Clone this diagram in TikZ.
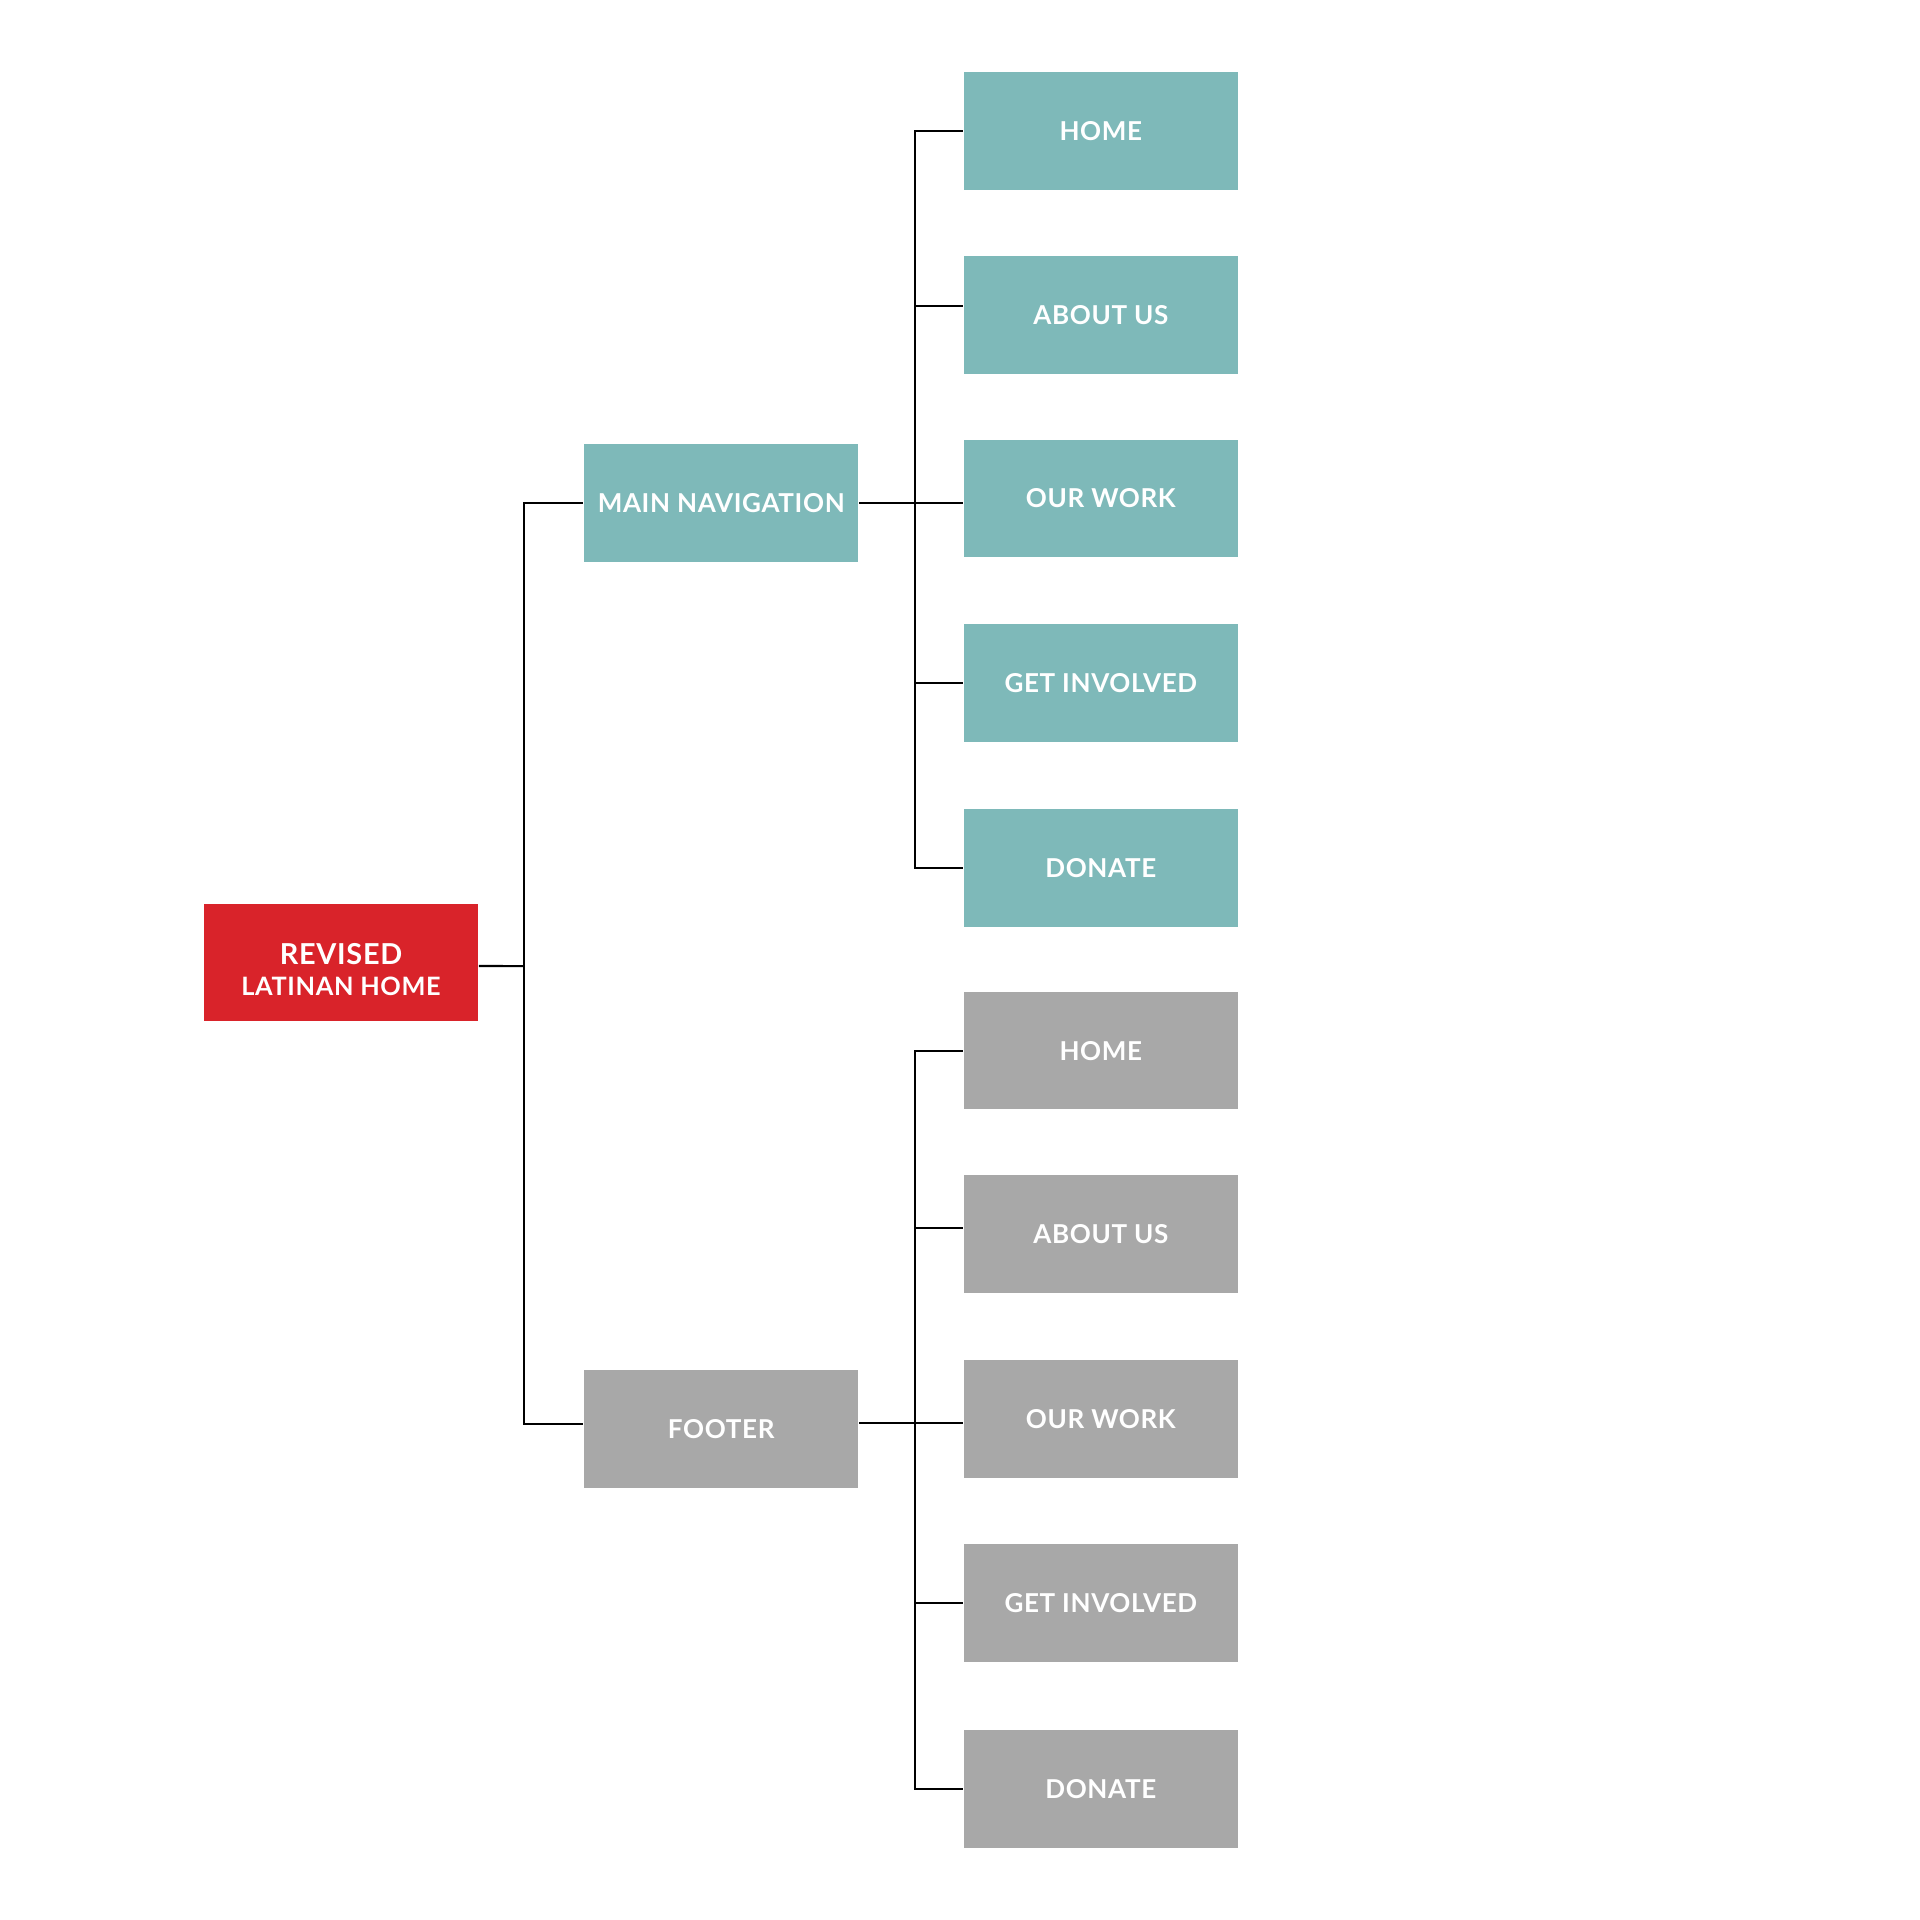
\documentclass[tikz,border=0pt]{standalone}
\usepackage{fontspec}
\setmainfont[LetterSpace=2.5]{Lato}
\usepackage{tikz}
\usetikzlibrary{}

\definecolor{navteal}{HTML}{7EB9B9}
\definecolor{footgray}{HTML}{A8A8A8}
\definecolor{homered}{HTML}{D9232A}

\tikzset{
  page/.style={minimum width=224*0.12245mm, minimum height=96*0.12245mm,
    inner sep=0pt, text=white, font=\fontsize{7.4}{9}\selectfont\bfseries, align=center},
  navbox/.style={page, fill=navteal},
  footbox/.style={page, fill=footgray},
  link/.style={draw=black, line width=0.6pt}
}

\begin{document}
\begin{tikzpicture}[x=0.012245cm,y=-0.012245cm]
  \useasboundingbox[fill=white] (0,0) rectangle (1568,1568);
  % root
  \node[page, fill=homered, label={[text=white, align=center, yshift=-2.1pt,
      font=\fontsize{7.2}{9.2}\selectfont\bfseries]center:{\fontsize{8.2}{9.2}\selectfont REVISED}\\[-0.3pt]LATINAN HOME}]
    (root) at (278.5,786) {};
  \node[navbox] (nav) at (589,411) {MAIN NAVIGATION};
  \node[footbox] (foot) at (589,1167) {FOOTER};
  % main navigation pages
  \node[navbox] (n1) at (899,107) {HOME};
  \node[navbox] (n2) at (899,257) {ABOUT US};
  \node[navbox] (n3) at (899,407) {OUR WORK};
  \node[navbox] (n4) at (899,558) {GET INVOLVED};
  \node[navbox] (n5) at (899,709) {DONATE};
  % footer pages
  \node[footbox] (f1) at (899,858) {HOME};
  \node[footbox] (f2) at (899,1008) {ABOUT US};
  \node[footbox] (f3) at (899,1159) {OUR WORK};
  \node[footbox] (f4) at (899,1309) {GET INVOLVED};
  \node[footbox] (f5) at (899,1461) {DONATE};
  % connectors
  \coordinate (rootbus) at (428,789);
  \coordinate (navbus) at (747,411);
  \coordinate (footbus) at (747,1162);
  \draw[link] ([yshift=-1pt]root.east) -- (rootbus);
  \draw[link] (rootbus) |- (nav.west);
  \draw[link] (rootbus) |- ([yshift=1.5pt]foot.west);
  \draw[link] (nav.east) -- (nav.east -| n3.west);
  \draw[link] (navbus) |- (n1.west);
  \draw[link] (navbus) |- ([yshift=2.4pt]n2.west);
  \draw[link] (navbus) |- (n4.west);
  \draw[link] (navbus) |- (n5.west);
  \draw[link] (footbus -| foot.east) -- (footbus -| f3.west);
  \draw[link] (footbus) |- (f1.west);
  \draw[link] (footbus) |- ([yshift=1.8pt]f2.west);
  \draw[link] (footbus) |- (f4.west);
  \draw[link] (footbus) |- (f5.west);
\end{tikzpicture}
\end{document}
